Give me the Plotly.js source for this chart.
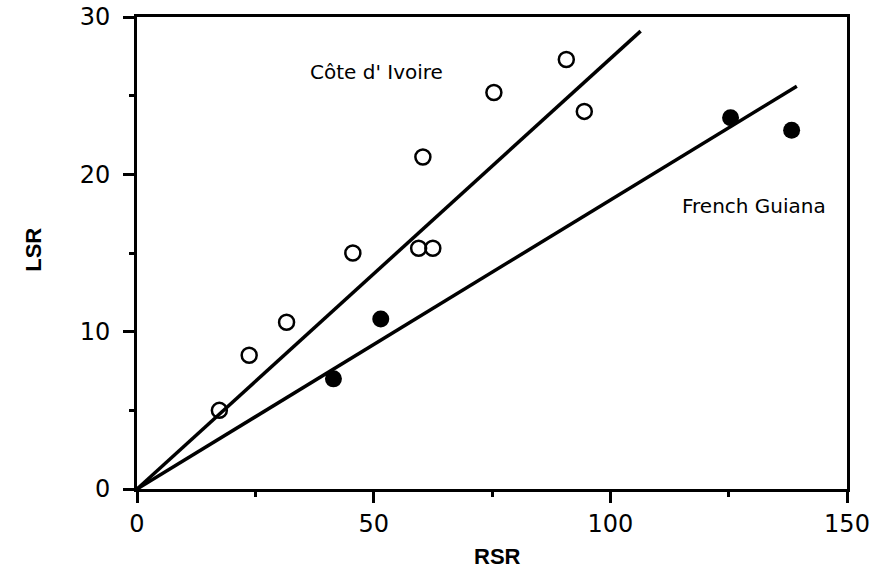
<!DOCTYPE html>
<html><head><meta charset="utf-8">
<script src="https://cdn.plot.ly/plotly-3.0.1.min.js"></script>
<style>html,body{margin:0;padding:0;background:#fff}#chart{width:873px;height:584px}</style>
</head><body><div id="chart"></div>
<script>
// Côte d'Ivoire (open circles)
const civRSR = [17.4, 23.7, 31.6, 45.6, 59.5, 62.5, 60.4, 75.4, 90.7, 94.5];
const civLSR = [5.0, 8.5, 10.6, 15.0, 15.3, 15.3, 21.1, 25.2, 27.3, 24.0];
// French Guiana (filled circles)
const fgRSR = [41.5, 51.5, 125.4, 138.3];
const fgLSR = [7.0, 10.8, 23.6, 22.8];
// Regression lines (through origin), endpoints
const civLineX = [0, 106.4];
const civLineY = [0, 29.1];
const fgLineX = [0, 139.4];
const fgLineY = [0, 25.6];
const xTicks = [0, 50, 100, 150];
const yTicks = [0, 10, 20, 30];

const traces = [
  {x: civLineX, y: civLineY, mode: 'lines', line: {color: '#000', width: 3.5}, hoverinfo: 'skip'},
  {x: fgLineX, y: fgLineY, mode: 'lines', line: {color: '#000', width: 3.5}, hoverinfo: 'skip'},
  {x: civRSR, y: civLSR, mode: 'markers', name: "Côte d' Ivoire",
   marker: {symbol: 'circle-open', size: 15, color: '#000', line: {width: 2.5, color: '#000'}}},
  {x: fgRSR, y: fgLSR, mode: 'markers', name: 'French Guiana',
   marker: {symbol: 'circle', size: 17, color: '#000'}}
];

const axisCommon = {
  showgrid: false, zeroline: false, showline: true, mirror: true,
  linecolor: '#000', linewidth: 3, ticks: 'outside', ticklen: 11, tickwidth: 3,
  tickcolor: '#000', tickfont: {family: 'DejaVu Sans, sans-serif', size: 24, color: '#000'}
};

const titleFont = {family: 'Liberation Sans Narrow, Liberation Sans, Arial, sans-serif', size: 22, color: '#000'};

const layout = {
  width: 873, height: 584,
  margin: {l: 137, r: 26, t: 17, b: 95},
  paper_bgcolor: '#fff', plot_bgcolor: '#fff',
  showlegend: false,
  xaxis: Object.assign({}, axisCommon, {range: [0, 150], tickvals: xTicks,
    minor: {dtick: 25, tick0: 0, ticks: 'outside', ticklen: 5, tickwidth: 3, tickcolor: '#000', showgrid: false}}),
  yaxis: Object.assign({}, axisCommon, {range: [0, 30], tickvals: yTicks, ticklabelstandoff: 8,
    minor: {dtick: 5, tick0: 0, ticks: 'outside', ticklen: 5, tickwidth: 3, tickcolor: '#000', showgrid: false}}),
  annotations: [
    {x: 50.6, y: 26.5, xref: 'x', yref: 'y', text: "Côte d' Ivoire", showarrow: false,
     font: {family: 'DejaVu Sans, sans-serif', size: 20, color: '#000'}},
    {x: 130.3, y: 18.0, xref: 'x', yref: 'y', text: 'French Guiana', showarrow: false,
     font: {family: 'DejaVu Sans, sans-serif', size: 20, color: '#000'}},
    {x: 0.508, y: -0.174, xref: 'paper', yref: 'paper', text: '<b>RSR</b>', showarrow: false,
     font: titleFont},
    {x: -0.166, y: 0.506, xref: 'paper', yref: 'paper', text: '<b>LSR</b>', showarrow: false, textangle: -90,
     font: titleFont}
  ]
};

Plotly.newPlot('chart', traces, layout, {staticPlot: true, displayModeBar: false});
</script>
</body></html>
